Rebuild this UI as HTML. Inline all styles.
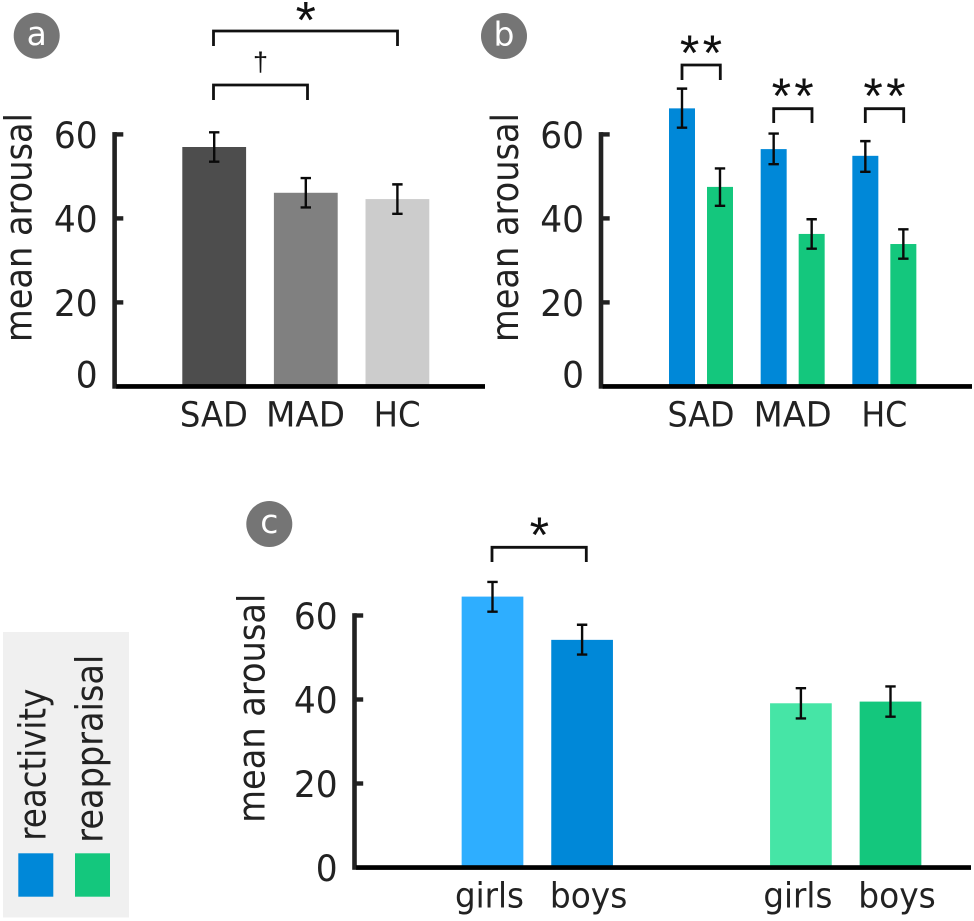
<!DOCTYPE html>
<html lang="en">
<head>
<meta charset="utf-8">
<title>Mean arousal by group, condition and sex</title>
<style>
html,body{margin:0;padding:0;background:#fff;width:974px;height:921px;overflow:hidden}
svg{display:block}
text{font-family:"DejaVu Sans","Liberation Sans",sans-serif;fill:#222}
text.mark{font-family:"Liberation Sans",sans-serif;fill:#111}
</style>
</head>
<body>
<svg id="figure" xmlns="http://www.w3.org/2000/svg" width="974" height="921" viewBox="0 0 974 921">
  <rect width="974" height="921" fill="#fff"/>

  <g>
    <circle cx="36.7" cy="35.7" r="23" fill="#757575"/>
    <text x="36.7" y="45" text-anchor="middle" font-size="33" style="fill:#fff">a</text>
  </g>
  <g>
    <circle cx="504" cy="36" r="23" fill="#757575"/>
    <text x="504" y="45.5" text-anchor="middle" font-size="33" style="fill:#fff">b</text>
  </g>
  <g>
    <circle cx="269.3" cy="524" r="23" fill="#757575"/>
    <text x="269.3" y="533" text-anchor="middle" font-size="33" style="fill:#fff">c</text>
  </g>

  <g id="panel-a"></g>
  <g id="panel-b"></g>
  <g id="panel-c"></g>

  <g fill="none" stroke="#111" stroke-width="2.8">
    <path d="M213.5 46V31H397.5V46"/>
    <path d="M213.5 100V85H307.5V100"/>
    <path d="M682 80V65H720.3V80"/>
    <path d="M773.7 123V108.7H812V123"/>
    <path d="M865.3 123V108.7H903.7V123"/>
    <path d="M492 562V547.3H586.3V562"/>
  </g>
  <text class="mark" x="305.7" y="38" text-anchor="middle" font-size="52">*</text>
  <text class="mark" x="260.5" y="71" text-anchor="middle" font-size="27">†</text>
  <text class="mark" x="702.6" y="70" text-anchor="middle" font-size="50" letter-spacing="3.2">**</text>
  <text class="mark" x="794.3" y="113" text-anchor="middle" font-size="50" letter-spacing="3.2">**</text>
  <text class="mark" x="886.1" y="113" text-anchor="middle" font-size="50" letter-spacing="3.2">**</text>
  <text class="mark" x="539.3" y="552" text-anchor="middle" font-size="50">*</text>

  <g>
    <rect x="3" y="632" width="126" height="285.5" fill="#f0f0f0"/>
    <rect x="18.3" y="853.3" width="35" height="43.4" fill="#0088d8"/>
    <rect x="75" y="853.3" width="35" height="43.4" fill="#14c77d"/>
    <text transform="translate(45.7 840.7) rotate(-90)" font-size="37" textLength="152" lengthAdjust="spacingAndGlyphs">reactivity</text>
    <text transform="translate(102.3 842.7) rotate(-90)" font-size="37" textLength="188" lengthAdjust="spacingAndGlyphs">reappraisal</text>
  </g>
</svg>

<script>
// Shared axis ticks
const tickValues = [0, 20, 40, 60];
const yTitle = 'mean arousal';

// Panel a: group means and error-bar bounds
const aCategories = ['SAD', 'MAD', 'HC'];
const aMeans = [57, 46.1, 44.6];
const aUpper = [60.5, 49.6, 48.1];
const aLower = [53.5, 42.6, 41.1];
const aColors = ['#4d4d4d', '#808080', '#cccccc'];

// Panel b: reactivity and reappraisal by group
const bCategories = ['SAD', 'MAD', 'HC'];
const bReactivity = [66.2, 56.5, 54.9];
const bReactivityUpper = [70.9, 60.2, 58.4];
const bReactivityLower = [61.6, 52.9, 51.1];
const bReappraisal = [47.5, 36.3, 33.9];
const bReappraisalUpper = [51.9, 39.8, 37.4];
const bReappraisalLower = [43, 32.8, 30.4];

// Panel c: reactivity and reappraisal by sex
const cCategories = ['girls', 'boys'];
const cReactivity = [64.5, 54.2];
const cReactivityUpper = [68, 57.8];
const cReactivityLower = [60.9, 50.7];
const cReappraisal = [39.1, 39.5];
const cReappraisalUpper = [42.7, 43.1];
const cReappraisalLower = [35.5, 35.9];

const NS = 'http://www.w3.org/2000/svg';
function mk(parent, tag, attrs, content) {
  const node = document.createElementNS(NS, tag);
  for (const k in attrs) node.setAttribute(k, attrs[k]);
  if (content !== undefined) node.textContent = content;
  parent.appendChild(node);
  return node;
}

function drawAxes(parent, cfg, y) {
  let el = mk(parent, 'rect', {x: cfg.spineX, y: y(60) - 2.3, width: 4.6, height: y(0) - y(60) + 4.6, fill: '#222'});
  
  
  el = mk(parent, 'rect', {x: cfg.spineX + 4, y: y(0) - 2.3, width: cfg.axisEnd - cfg.spineX - 4, height: 4.7, fill: '#000'});
  
  
  tickValues.forEach(function (v) {
    if (v !== 0) {
      const tick = mk(parent, 'rect', {x: cfg.spineX + 2, y: y(v) - 2.2, width: 9, height: 4.4, fill: '#222'});
      
      
    }
    const str = String(v);
    const base = v === 0 ? y(0) + cfg.zeroDrop : y(v) + 13.5;
    const label = mk(parent, 'text', {
      x: cfg.labelRight, y: base, 'text-anchor': 'end', 'font-size': 36.5,
      textLength: str.length * 21.9, lengthAdjust: 'spacingAndGlyphs'
    }, str);
    
    
  });
  const title = mk(parent, 'text', {
    transform: 'translate(' + cfg.titleX + ' ' + cfg.titleY + ') rotate(-90)',
    'font-size': 37, textLength: 229, lengthAdjust: 'spacingAndGlyphs'
  }, yTitle);
  
  
}

function drawBar(parent, cx, width, mean, upper, lower, color, y) {
  const bar = mk(parent, 'rect', {x: cx - width / 2, y: y(mean), width: width, height: y(0) - y(mean), fill: color});
  
  
  const err = mk(parent, 'path', {
    d: 'M' + (cx - 5.2) + ' ' + y(upper) + 'H' + (cx + 5.2) +
       'M' + cx + ' ' + y(upper) + 'V' + y(lower) +
       'M' + (cx - 5.2) + ' ' + y(lower) + 'H' + (cx + 5.2),
    fill: 'none', stroke: '#0a0a0a', 'stroke-width': 2.4
  });
  
  
}

function drawCategory(parent, cx, baseline, str, width, size) {
  const label = mk(parent, 'text', {
    x: cx, y: baseline, 'text-anchor': 'middle', 'font-size': size,
    textLength: width, lengthAdjust: 'spacingAndGlyphs'
  }, str);
  
  
}

const scale = function (zero) { return function (v) { return zero - v * 4.2; }; };

// Panel a
(function () {
  const parent = document.getElementById('panel-a');
  const y = scale(386.4);
  const x = function (i) { return 214.2 + i * 91.6; };
  const widths = [68, 79, 47];
  aCategories.forEach(function (c, i) {
    drawBar(parent, x(i), 63.8, aMeans[i], aUpper[i], aLower[i], aColors[i], y);
    drawCategory(parent, x(i) - 0.3, 426.7, c, widths[i], 35);
  });
  drawAxes(parent, {spineX: 112.3, axisEnd: 485, labelRight: 97.7, zeroDrop: 1.3, titleX: 31.7, titleY: 342}, y);
})();

// Panel b
(function () {
  const parent = document.getElementById('panel-b');
  const y = scale(386.4);
  const x = function (g, s) { return 682 + g * 91.67 + s * 38; };
  const widths = [67, 78, 46];
  bCategories.forEach(function (c, g) {
    drawBar(parent, x(g, 0), 26, bReactivity[g], bReactivityUpper[g], bReactivityLower[g], '#0088d8', y);
    drawBar(parent, x(g, 1), 26, bReappraisal[g], bReappraisalUpper[g], bReappraisalLower[g], '#14c77d', y);
    drawCategory(parent, x(g, 0) + 19, 426.7, c, widths[g], 35);
  });
  drawAxes(parent, {spineX: 598.7, axisEnd: 972, labelRight: 584, zeroDrop: 1.3, titleX: 518, titleY: 342}, y);
})();

// Panel c
(function () {
  const parent = document.getElementById('panel-c');
  const y = scale(867.5);
  const x = function (g, s) { return 492.5 + g * 308.4 + s * 89.6; };
  const shades = [['#2eaeff', '#0088d8'], ['#46e5a6', '#14c77d']];
  const labelShift = [-3, 6.5];
  const labelWidths = [69, 77.5];
  cCategories.forEach(function (c, s) {
    drawBar(parent, x(0, s), 61.7, cReactivity[s], cReactivityUpper[s], cReactivityLower[s], shades[0][s], y);
    drawBar(parent, x(1, s), 61.7, cReappraisal[s], cReappraisalUpper[s], cReappraisalLower[s], shades[1][s], y);
    drawCategory(parent, x(0, s) + labelShift[s], 907.5, c, labelWidths[s], 35);
    drawCategory(parent, x(1, s) + labelShift[s], 907.5, c, labelWidths[s], 35);
  });
  drawAxes(parent, {spineX: 352.2, axisEnd: 971, labelRight: 337.7, zeroDrop: 13.7, titleX: 264.3, titleY: 822.7}, y);
})();
</script>
</body>
</html>
